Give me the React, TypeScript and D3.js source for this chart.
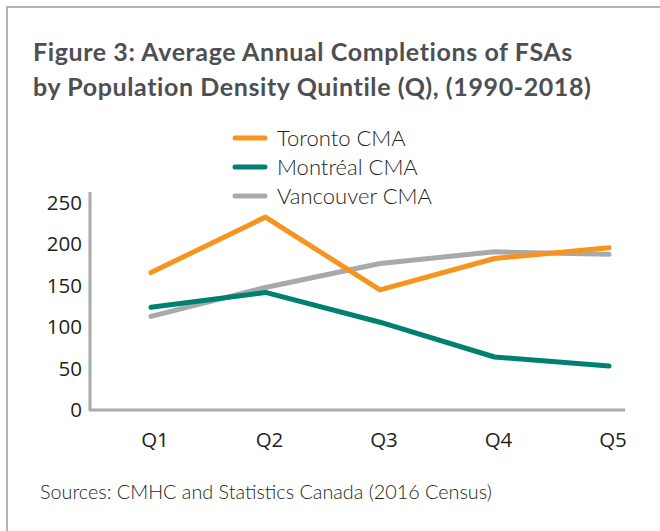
import React from 'react'
import * as d3 from 'd3'

// Data
const quintiles = ['Q1', 'Q2', 'Q3', 'Q4', 'Q5']
const toronto = [166, 233, 145, 183, 196]
const montreal = [124, 142, 106, 64, 53]
const vancouver = [113, 148, 177, 191, 188]
const yTicks = [0, 50, 100, 150, 200, 250]

const series = [
  { name: 'Toronto CMA', values: toronto, color: '#f7941d' },
  { name: 'Montréal CMA', values: montreal, color: '#00806f' },
  { name: 'Vancouver CMA', values: vancouver, color: '#a7a9ac' }
]

const W = 660
const H = 531

export default function App() {
  const x = d3.scalePoint<string>()
    .domain(quintiles)
    .range([151, 609])

  const y = d3.scaleLinear()
    .domain([0, 250])
    .range([410, 203])

  const line = d3.line<number>()
    .x((_, i) => x(quintiles[i]) as number)
    .y(d => y(d))

  const tickFont = '"Open Sans", "Noto Sans", sans-serif'

  return (
    <svg width={W} height={H} style={{ position: 'absolute', left: 0, top: 0, background: '#fff' }}>
      {/* frame */}
      <path d={`M7,${H} V7 H${W}`} fill="none" stroke="#b3b3b3" strokeWidth={2} />

      {/* title */}
      <g fill="#4d4f53" fontFamily="Lato, sans-serif" fontWeight="bold" fontSize={25} letterSpacing={0.6}>
        <text x={33} y={61}>Figure 3: Average Annual Completions of FSAs</text>
        <text x={33} y={96}>by Population Density Quintile (Q), (1990-2018)</text>
      </g>

      {/* legend */}
      <g fontFamily="Lato, sans-serif" fontWeight={300} fontSize={22} fill="#231f20">
        {series.map((s, i) => (
          <g key={s.name} transform={`translate(0, ${138 + i * 29})`}>
            <line x1={235} x2={265} y1={0} y2={0} stroke={s.color} strokeWidth={5} strokeLinecap="round" />
            <text x={277} y={8}>{s.name}</text>
          </g>
        ))}
      </g>

      {/* axes */}
      <line x1={90} x2={90} y1={192} y2={411} stroke="#a7a9ac" strokeWidth={3} />
      <line x1={89} x2={625} y1={410} y2={410} stroke="#a7a9ac" strokeWidth={3} />

      <g fontFamily={tickFont} fontSize={20.5} fill="#231f20" textAnchor="end">
        {yTicks.map(t => (
          <text key={t} x={82} y={y(t) + 7}>{t}</text>
        ))}
      </g>
      <g fontFamily={tickFont} fontSize={20.5} fill="#231f20" textAnchor="middle">
        {quintiles.map(q => (
          <text key={q} x={(x(q) as number) + 4} y={447}>{q}</text>
        ))}
      </g>

      {/* lines */}
      {series.slice().reverse().map(s => (
        <path key={s.name} d={line(s.values) || ''} fill="none" stroke={s.color}
          strokeWidth={5} strokeLinecap="round" strokeLinejoin="round" />
      ))}

      {/* source */}
      <text x={40} y={499} fontFamily="Lato, sans-serif" fontWeight={300} fontSize={19.8} fill="#231f20">
        Sources: CMHC and Statistics Canada (2016 Census)
      </text>
    </svg>
  )
}
